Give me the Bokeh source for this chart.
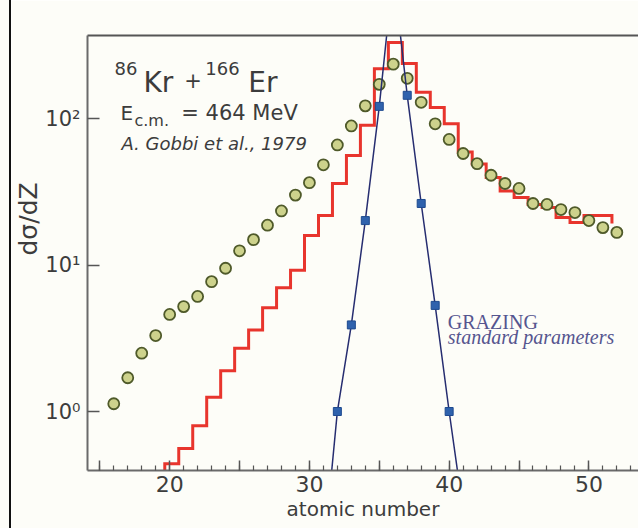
from bokeh.plotting import figure
from bokeh.models import FixedTicker, LinearAxis, Label, Spacer, Title
from bokeh.layouts import row
from bokeh.embed import file_html
from bokeh.resources import INLINE

# ---------------- data ----------------
exp_z = list(range(16, 53))
exp_v = [1.13, 1.7, 2.5, 3.3, 4.6, 5.2, 6.1, 7.7, 9.5, 12.5, 14.9, 18.7, 23.4, 30.0,
         36.5, 48.3, 66.0, 89.0, 122.0, 171.0, 235.0, 188.0, 129.0, 92.0, 72.0,
         57.7, 49.2, 41.0, 36.0, 33.3, 26.3, 25.9, 23.9, 22.8, 20.1, 18.0, 16.7]

hist_z = list(range(20, 52))
hist_v = [0.44, 0.56, 0.80, 1.25, 1.9, 2.7, 3.6, 5.1, 7.0, 9.2, 15.9, 21.8, 36.0,
          56.0, 90.0, 219.0, 330.0, 237.0, 151.0, 119.0, 92.0, 59.0, 49.0, 39.6,
          32.0, 28.9, 25.9, 24.7, 21.1, 19.5, 21.8, 21.8]
hist_end = 19.2

grz_z = list(range(31, 42))
grz_v = [0.10, 1.0, 3.9, 20.1, 121.0, 1000.0, 144.0, 26.3, 5.3, 1.0, 0.21]

x_major = [15, 20, 25, 30, 35, 40, 45, 50]
x_labels = {15: "", 20: "20", 25: "", 30: "30", 35: "", 40: "40", 45: "", 50: "50"}
y_ticks = [1, 10, 100]
y_labels = {1: "10\u2070", 10: "10\u00b9", 100: "10\u00b2"}

# ---------------- style ----------------
BG = "#fdfdf8"
AX = "#6a6a6a"
TXT = "#3c3c3c"
SANS = "DejaVu Sans"

X_START, X_END = 14.12, 53.55
Y_START, Y_END = 0.3957, 368.6

PAD = 9
LEFT = 86 - PAD - 2


def X(px):
    return X_START + (px - 86) / 14.0


def Y(py):
    return Y_START * 10 ** ((470 - py) / 146.5)


p = figure(width=638 - PAD - 2, height=528, x_range=(X_START, X_END),
           y_range=(Y_START, Y_END),
           y_axis_type="log", output_backend="svg", toolbar_location=None,
           min_border_left=LEFT, min_border_right=0, min_border_top=35,
           min_border_bottom=58,
           background_fill_color=BG, border_fill_color=BG, outline_line_color=None)
p.grid.visible = False

# x axis
xa = p.xaxis[0]
xa.ticker = FixedTicker(ticks=x_major, minor_ticks=list(range(14, 54)))
xa.major_label_overrides = x_labels
xa.major_tick_in = 10
xa.major_tick_out = 0
xa.minor_tick_in = 5
xa.minor_tick_out = 0
xa.axis_line_color = AX
xa.axis_line_width = 2
xa.major_tick_line_color = "#555555"
xa.minor_tick_line_color = "#555555"
xa.major_tick_line_width = 1.5
xa.minor_tick_line_width = 1.2
xa.major_label_text_font = SANS
xa.major_label_text_font_size = "22px"
xa.major_label_text_color = TXT
xa.major_label_standoff = 5
xa.axis_label = "atomic number"
xa.axis_label_text_font = SANS
xa.axis_label_text_font_size = "20px"
xa.axis_label_text_font_style = "normal"
xa.axis_label_text_color = TXT
xa.axis_label_standoff = 2

# y axis
ya = p.yaxis[0]
ya.ticker = FixedTicker(ticks=y_ticks, minor_ticks=[])
ya.major_label_overrides = y_labels
ya.major_tick_in = 12
ya.major_tick_out = 0
ya.minor_tick_line_color = None
ya.axis_line_color = AX
ya.axis_line_width = 2
ya.major_tick_line_color = "#555555"
ya.major_tick_line_width = 1.5
ya.major_label_text_font = SANS
ya.major_label_text_font_size = "21px"
ya.major_label_text_color = TXT
ya.major_label_standoff = 7

# y-axis title, placed along the left side like the reference
ytitle = Title(text="d\u03c3/dZ", align="left", offset=215, standoff=0,
               text_font=SANS, text_font_size="25px", text_font_style="normal",
               text_color=TXT)
p.add_layout(ytitle, "left")

# top border line
top = LinearAxis(ticker=FixedTicker(ticks=[]), major_label_text_font_size="0px",
                 axis_line_color="#555555", axis_line_width=2,
                 major_tick_line_color=None, minor_tick_line_color=None)
p.add_layout(top, "above")

# histogram (step) line
hx = [hist_z[0] - 0.35]
hy = [Y_START * 0.5]
for z, v in zip(hist_z, hist_v):
    hx += [z - 0.35, z + 0.65]
    hy += [v, v]
hx.append(hist_z[-1] + 0.65)
hy.append(hist_end)
p.line(hx, hy, line_color="#e8352d", line_width=3, line_join="miter")

# experimental points
p.scatter(exp_z, exp_v, marker="circle", size=11, fill_color="#cdd28c",
          line_color="#4f5a2a", line_width=1.8)

# GRAZING calculation
p.line(grz_z, grz_v, line_color="#262d70", line_width=1.5)
p.scatter(grz_z, grz_v, marker="square", size=8, fill_color="#2f62ad",
          line_color="#1e4a8f", line_width=1)


# annotations
def lab(text, px, py, size, font=SANS, style="normal", color=TXT):
    p.add_layout(Label(x=X(px), y=Y(py), text=text, text_font=font,
                       text_font_size=size, text_font_style=style,
                       text_color=color, text_baseline="alphabetic",
                       text_align="left"))


lab("86", 113, 68, "18px")
lab("Kr", 142, 82, "28px")
lab("+", 183, 80, "21px")
lab("166", 204, 68, "18px")
lab("Er", 247, 82, "28px")
lab("E", 119, 113, "20px")
lab("c.m.", 133, 120, "16px")
lab("= 464 MeV", 180, 113, "21px")
lab("A. Gobbi et al., 1979", 120, 143, "18px", style="italic")
lab("GRAZING", 447, 322, "20px", font="Liberation Serif", color="#55558f")
lab("standard parameters", 447, 337, "20px", font="Liberation Serif",
    style="italic", color="#55558f")

left_pad = Spacer(width=PAD, height=528, styles={"background-color": BG})
black_bar = Spacer(width=2, height=528, styles={"background-color": "#111111"})
layout = row(left_pad, black_bar, p)

open("out.html", "w").write(file_html(layout, INLINE))
